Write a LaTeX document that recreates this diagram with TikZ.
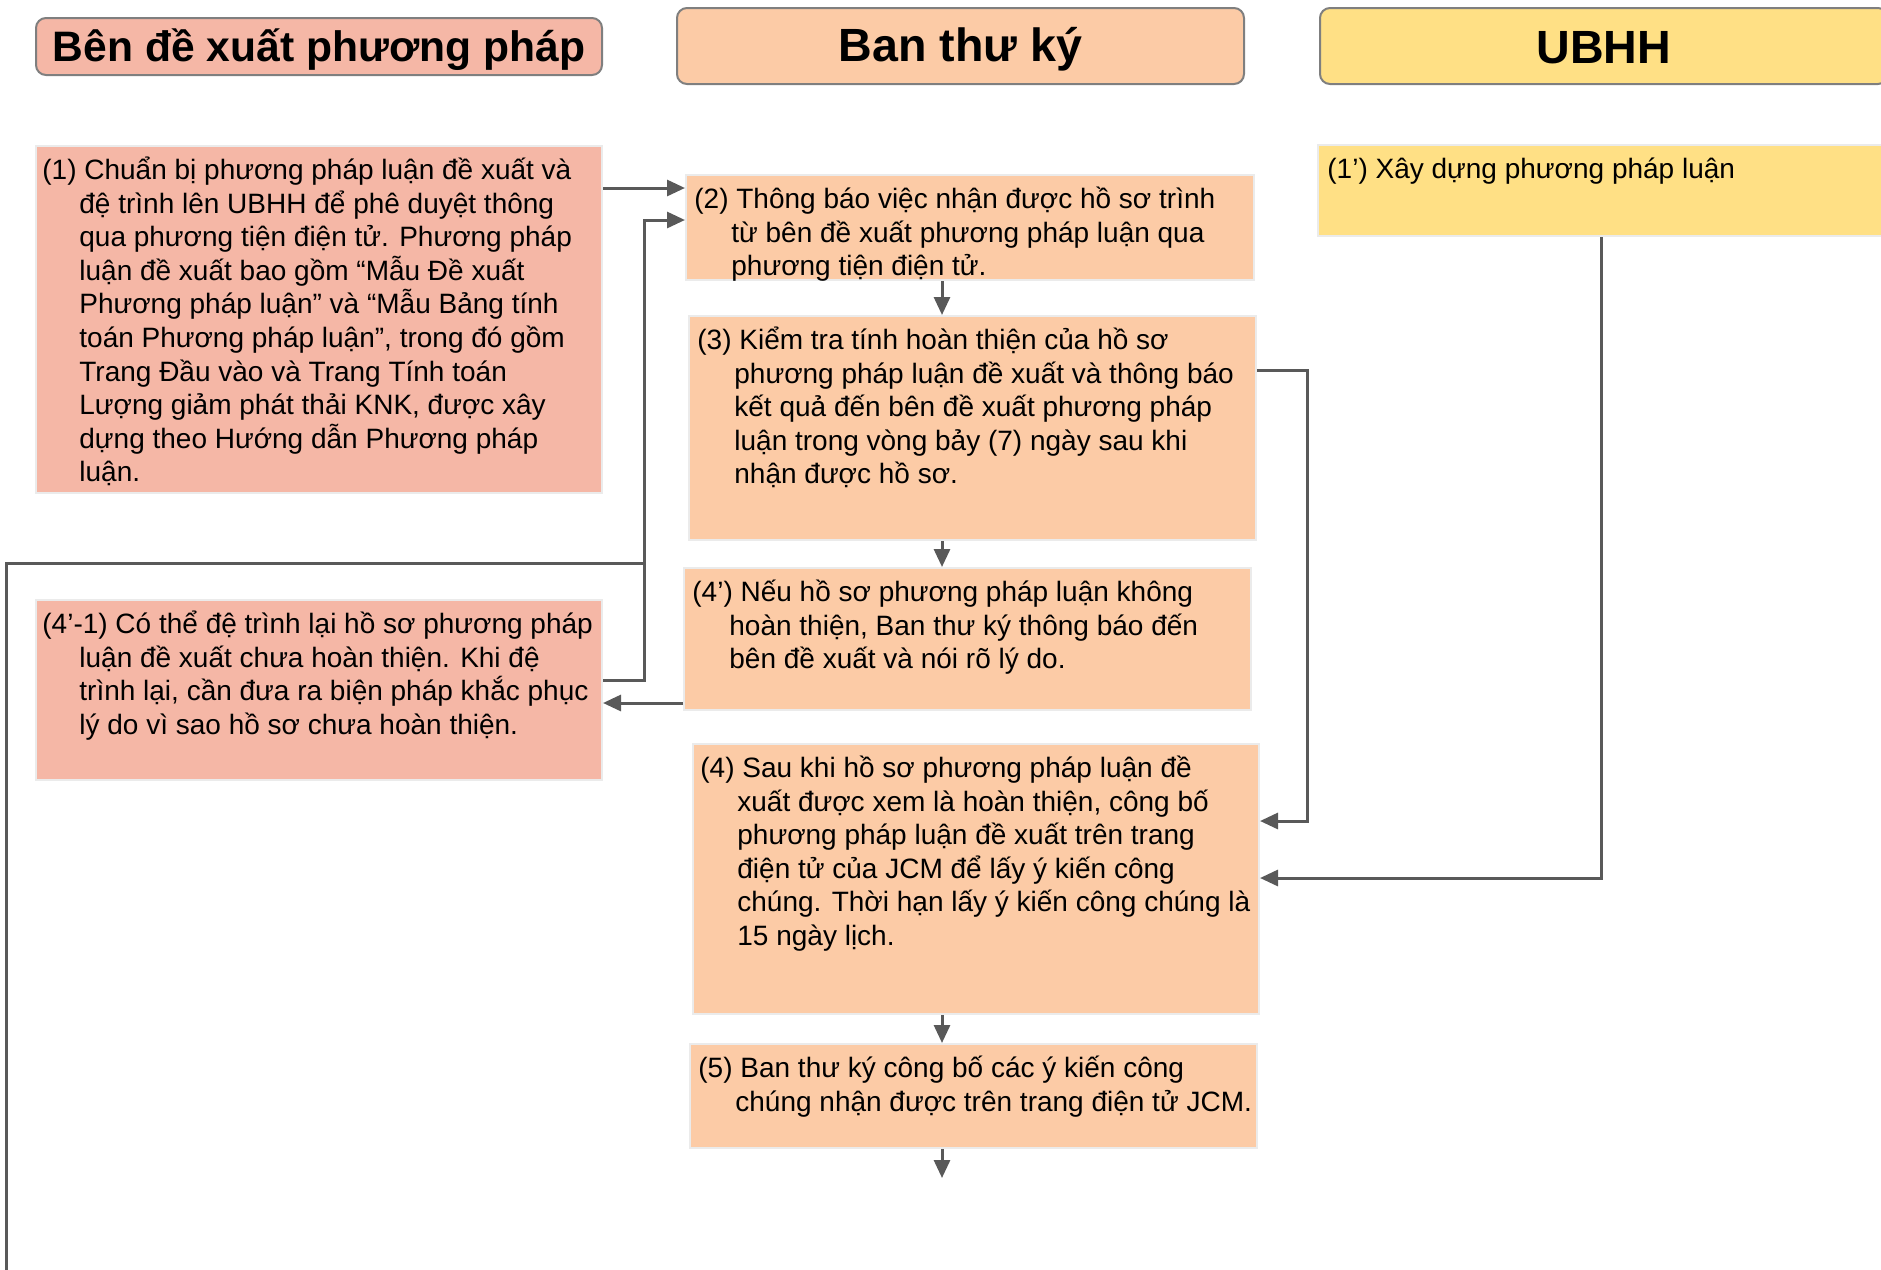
\documentclass[tikz,border=0pt]{standalone}
\usepackage{fontspec}
\setmainfont{Liberation Sans}
\usetikzlibrary{arrows.meta}
\definecolor{salmon}{HTML}{F5B7A6}
\definecolor{peach}{HTML}{FCCBA6}
\definecolor{gold}{HTML}{FFE085}
\definecolor{lineg}{HTML}{595959}
\definecolor{hdrborder}{HTML}{7F7F7F}
\newcommand\indnt{\hspace*{18.5pt}}
\newcommand\firstln{\rule{0pt}{17pt}}
\begin{document}
\begin{tikzpicture}[x=0.5pt,y=-0.5pt,
  hdr/.style={draw=hdrborder, line width=1pt, rounded corners=5pt, anchor=north west, inner sep=0},
  hdrtxt/.style={inner sep=0, font=\fontsize{23.3}{27}\selectfont\bfseries},
  box/.style={draw=black!8, line width=1pt, anchor=north west, inner sep=0},
  txt/.style={anchor=north west, inner sep=0, align=left, font=\fontsize{14}{16.8}\selectfont},
  conn/.style={draw=lineg, line width=1.5pt},
  arr/.style={conn, -{Triangle[length=9pt,width=8pt]}}
]
\useasboundingbox (0,0) rectangle (1881,1270);
\clip (0,0) rectangle (1881,1270);

% headers
\node[hdr, fill=salmon, minimum width=283pt, minimum height=28.5pt] (h1) at (35,17) {};
\node[hdr, fill=peach, minimum width=283.5pt, minimum height=38pt] (h2) at (676,7) {};
\node[hdr, fill=gold, minimum width=284pt, minimum height=38pt] (h3) at (1319,7) {};
\node[hdrtxt, font=\fontsize{21.3}{25}\selectfont\bfseries] (h1t) at ([yshift=-1.5pt]h1.center) {Bên đề xuất phương pháp};
\node[hdrtxt] (h2t) at ([yshift=-1.5pt]h2.center) {Ban thư ký};
\node[hdrtxt] (h3t) at ([yshift=-1pt]h3.center) {UBHH};

% boxes
\node[box, fill=salmon, minimum width=283pt, minimum height=173.5pt] (b1) at (35,145) {};
\node[box, fill=salmon, minimum width=283pt, minimum height=90pt] (b41) at (35,599) {};
\node[box, fill=peach, minimum width=284pt, minimum height=52.5pt] (b2) at (685,174) {};
\node[box, fill=peach, minimum width=283.5pt, minimum height=112pt] (b3) at (688,315) {};
\node[box, fill=peach, minimum width=283.5pt, minimum height=71pt] (b4p) at (683,567) {};
\node[box, fill=peach, minimum width=283pt, minimum height=135pt] (b4) at (692,743) {};
\node[box, fill=peach, minimum width=283.5pt, minimum height=52pt] (b5) at (689,1043) {};
\node[box, fill=gold, minimum width=290pt, minimum height=45.5pt] (b1p) at (1317,144) {};

% texts
\node[txt] (t1) at (42,145) {\firstln(1) Chuẩn bị phương pháp luận đề xuất và\\
\indnt đệ trình lên UBHH để phê duyệt thông\\
\indnt qua phương tiện điện tử. Phương pháp\\
\indnt luận đề xuất bao gồm “Mẫu Đề xuất\\
\indnt Phương pháp luận” và “Mẫu Bảng tính\\
\indnt toán Phương pháp luận”, trong đó gồm\\
\indnt Trang Đầu vào và Trang Tính toán\\
\indnt Lượng giảm phát thải KNK, được xây\\
\indnt dựng theo Hướng dẫn Phương pháp\\
\indnt luận.};
\node[txt] (t41) at (42,599) {\firstln(4’-1) Có thể đệ trình lại hồ sơ phương pháp\\
\indnt luận đề xuất chưa hoàn thiện. Khi đệ\\
\indnt trình lại, cần đưa ra biện pháp khắc phục\\
\indnt lý do vì sao hồ sơ chưa hoàn thiện.};
\node[txt] (t2) at (694,174) {\firstln(2) Thông báo việc nhận được hồ sơ trình\\
\indnt từ bên đề xuất phương pháp luận qua\\
\indnt phương tiện điện tử.};
\node[txt] (t3) at (697,315) {\firstln(3) Kiểm tra tính hoàn thiện của hồ sơ\\
\indnt phương pháp luận đề xuất và thông báo\\
\indnt kết quả đến bên đề xuất phương pháp\\
\indnt luận trong vòng bảy (7) ngày sau khi\\
\indnt nhận được hồ sơ.};
\node[txt] (t4p) at (692,567) {\firstln(4’) Nếu hồ sơ phương pháp luận không\\
\indnt hoàn thiện, Ban thư ký thông báo đến\\
\indnt bên đề xuất và nói rõ lý do.};
\node[txt] (t4) at (700,743) {\firstln(4) Sau khi hồ sơ phương pháp luận đề\\
\indnt xuất được xem là hoàn thiện, công bố\\
\indnt phương pháp luận đề xuất trên trang\\
\indnt điện tử của JCM để lấy ý kiến công\\
\indnt chúng. Thời hạn lấy ý kiến công chúng là\\
\indnt 15 ngày lịch.};
\node[txt] (t5) at (698,1043) {\firstln(5) Ban thư ký công bố các ý kiến công\\
\indnt chúng nhận được trên trang điện tử JCM.};
\node[txt] (t1p) at (1327,144) {\firstln(1’) Xây dựng phương pháp luận};

% helper coordinates
\coordinate (xM) at (942,0);
\coordinate (xL) at (644,0);
\coordinate (xR) at (1307,0);
\coordinate (xU) at (1601,0);
\coordinate (xF) at (6,0);
\coordinate (yA) at (0,188);
\coordinate (yB) at (0,220);
\coordinate (yC) at (0,563);
\coordinate (yD) at (0,680);
\coordinate (yE) at (0,703);
\coordinate (yF) at (0,370);
\coordinate (yG) at (0,821);
\coordinate (yH) at (0,878);
\coordinate (end5) at (942,1178);
\coordinate (bottomL) at (6,1280);

% connectors
\draw[arr] (b1.east |- yA) -- (b2.west |- yA);
\draw[arr] (b41.east |- yD) -| (xL |- yB) -- (b2.west |- yB);
\draw[conn] (xL |- yC) -- (xF |- yC) -- (bottomL);
\draw[arr] (b2.south -| xM) -- (b3.north -| xM);
\draw[arr] (b3.south -| xM) -- (b4p.north -| xM);
\draw[arr] (b4p.west |- yE) -- (b41.east |- yE);
\draw[arr] (b3.east |- yF) -| (xR |- yG) -- (b4.east |- yG);
\draw[arr] (b1p.south -| xU) |- (b4.east |- yH);
\draw[arr] (b4.south -| xM) -- (b5.north -| xM);
\draw[arr] (b5.south -| xM) -- (end5);
\end{tikzpicture}
\end{document}
